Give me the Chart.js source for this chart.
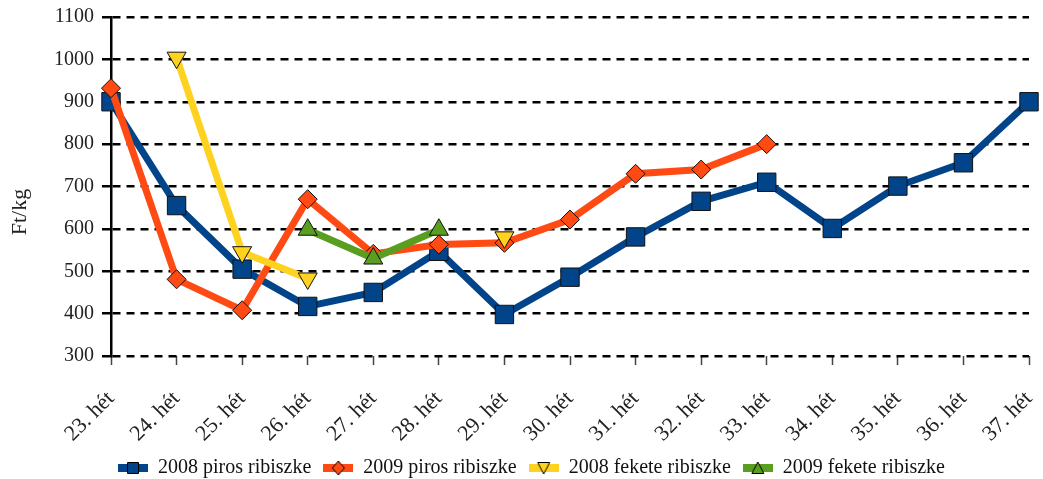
<!DOCTYPE html>
<html lang="hu">
<head>
  <meta charset="UTF-8" />
  <title>Ribiszke árak</title>
  <script src="https://cdn.jsdelivr.net/npm/chart.js"></script>
  <style>
    html, body { margin: 0; padding: 0; background: #fff; }
    #wrap { width: 1043px; height: 479px; }
  </style>
</head>
<body>
<div id="wrap"><canvas id="chart"></canvas></div>

<script>
const weeks = ["23. hét", "24. hét", "25. hét", "26. hét", "27. hét", "28. hét", "29. hét", "30. hét",
               "31. hét", "32. hét", "33. hét", "34. hét", "35. hét", "36. hét", "37. hét"];

const piros2008 = [900, 655, 505, 417, 450, 547, 398, 486, 581, 665, 710, 601, 701, 756, 900];
const piros2009 = [932, 481, 408, 670, 541, 563, 567, 622, 730, 740, 800, null, null, null, null];
const fekete2008 = [null, 1004, 545, 483, null, null, 580, null, null, null, null, null, null, null, null];
const fekete2009 = [null, null, null, 598, 530, 598, null, null, null, null, null, null, null, null, null];

const yTicks = [300, 400, 500, 600, 700, 800, 900, 1000, 1100];
const yTitle = 'Ft/kg';

const BLUE = '#02448a';
const ORANGE = '#ff4a14';
const YELLOW = '#ffd21f';
const GREEN = '#5a9e1f';
const FONT = "'Liberation Serif', 'DejaVu Serif', serif";

// small legend swatch: thick line with the marker on top
function swatch(color, shape) {
  const c = document.createElement('canvas');
  c.width = 30; c.height = 16;
  const g = c.getContext('2d');
  g.fillStyle = color;
  g.fillRect(0, 4, 30, 8);
  g.strokeStyle = '#000';
  g.lineWidth = 1;
  g.beginPath();
  if (shape === 'rect') {
    g.rect(9.5, 2.5, 11, 11);
  } else if (shape === 'diamond') {
    g.moveTo(15, 1); g.lineTo(21, 8); g.lineTo(15, 15); g.lineTo(9, 8); g.closePath();
  } else if (shape === 'down') {
    g.moveTo(9, 2.5); g.lineTo(21, 2.5); g.lineTo(15, 14); g.closePath();
  } else {
    g.moveTo(15, 2); g.lineTo(21, 13.5); g.lineTo(9, 13.5); g.closePath();
  }
  g.fill();
  g.stroke();
  return c;
}
const legendIcons = [swatch(BLUE, 'rect'), swatch(ORANGE, 'diamond'), swatch(YELLOW, 'down'), swatch(GREEN, 'up')];

function series(label, data, color, style, radius, rotation, order) {
  return {
    label: label,
    data: data,
    borderColor: color,
    backgroundColor: color,
    borderWidth: 7,
    pointStyle: style,
    pointRadius: radius,
    pointHoverRadius: radius,
    pointRotation: rotation,
    pointBorderColor: '#111',
    pointBorderWidth: 1,
    pointBackgroundColor: color,
    tension: 0,
    spanGaps: false,
    order: order
  };
}

// y axis title, drawn a bit below the middle like in the original
const yTitlePlugin = {
  id: 'yTitle',
  afterDraw(chart) {
    const ctx = chart.ctx;
    ctx.save();
    ctx.translate(20, 212);
    ctx.rotate(-Math.PI / 2);
    ctx.font = '22px ' + FONT;
    ctx.fillStyle = '#222';
    ctx.textAlign = 'center';
    ctx.textBaseline = 'middle';
    ctx.fillText(yTitle, 0, 0);
    ctx.restore();
  }
};

new Chart(document.getElementById('chart'), {
  type: 'line',
  data: {
    labels: weeks,
    datasets: [
      series('2008 piros ribiszke', piros2008, BLUE, 'rect', 13, 0, 3),
      series('2009 piros ribiszke', piros2009, ORANGE, 'rectRot', 9.5, 0, 2),
      series('2008 fekete ribiszke', fekete2008, YELLOW, 'triangle', 11, 180, 1),
      series('2009 fekete ribiszke', fekete2009, GREEN, 'triangle', 11, 0, 0)
    ]
  },
  plugins: [yTitlePlugin],
  options: {
    responsive: true,
    maintainAspectRatio: false,
    animation: false,
    // negative bottom padding pushes the legend's built-in 10px gap off the canvas
    layout: { padding: { top: 0, right: 0, left: 20, bottom: -9 } },
    plugins: {
      tooltip: { enabled: false },
      legend: {
        position: 'bottom',
        labels: {
          usePointStyle: true,
          pointStyleWidth: 30,
          boxHeight: 16,
          padding: 12,
          color: '#111',
          font: { family: FONT, size: 20 },
          generateLabels: function (chart) {
            const items = Chart.defaults.plugins.legend.labels.generateLabels(chart);
            items.sort(function (a, b) { return a.datasetIndex - b.datasetIndex; });
            items.forEach(function (it) {
              it.pointStyle = legendIcons[it.datasetIndex];
              it.rotation = 0;
            });
            return items;
          }
        }
      }
    },
    scales: {
      x: {
        offset: false,
        grid: { drawOnChartArea: false, drawTicks: true, tickLength: 9, tickColor: '#444', tickWidth: 1.5 },
        border: { display: false },
        ticks: {
          maxRotation: 45, minRotation: 45, autoSkip: false, padding: 21,
          color: '#222', font: { family: FONT, size: 22 }
        },
        afterFit: function (scale) {
          scale.height = 90;
          scale.paddingRight = 7;
        }
      },
      y: {
        min: 300,
        max: 1100,
        afterBuildTicks: function (axis) { axis.ticks = yTicks.map(function (v) { return { value: v }; }); },
        afterFit: function (scale) {
          scale.width = 91;
          scale.paddingTop = 17;
        },
        grid: { color: '#000', lineWidth: 2.5, tickLength: 9, tickColor: '#000', tickWidth: 2.5 },
        border: { display: true, color: '#000', width: 2.5, dash: [8, 6] },
        ticks: {
          padding: 8, color: '#222', font: { family: FONT, size: 20 },
          callback: function (v) { return String(v); }
        }
      }
    }
  }
});
</script>
</body>
</html>
